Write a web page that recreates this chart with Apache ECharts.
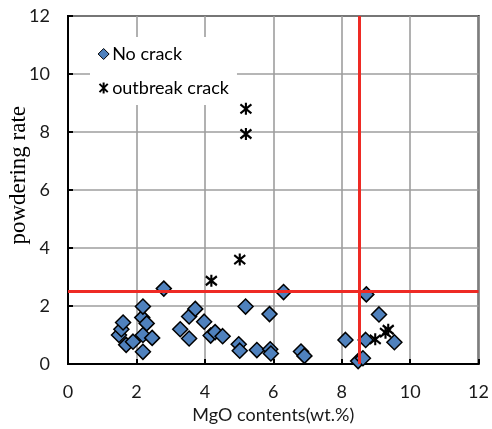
<!DOCTYPE html>
<html><head><meta charset="utf-8">
<script src="https://cdn.jsdelivr.net/npm/echarts@6/dist/echarts.min.js"></script>
<style>html,body{margin:0;padding:0;background:#fff}#c{width:492px;height:429px}</style>
</head><body><div id="c"></div>
<script>
var noCrackX = [1.49,1.56,1.61,1.70,1.90,2.17,2.19,2.30,2.19,2.46,2.19,2.80,
  3.28,3.54,3.54,3.72,3.98,4.17,4.30,4.52,4.99,5.02,5.19,5.52,5.89,5.91,5.93,6.30,6.81,6.91,
  8.11,8.48,8.62,8.70,8.72,9.09,9.54];
var noCrackY = [1.00,1.20,1.43,0.66,0.77,1.60,1.98,1.40,1.00,0.90,0.42,2.60,
  1.20,0.88,1.64,1.90,1.46,0.98,1.10,0.96,0.68,0.46,1.98,0.48,1.72,0.51,0.36,2.48,0.43,0.28,
  0.83,0.10,0.20,0.83,2.40,1.71,0.75];
var crackX = [4.19,5.02,5.20,5.20,8.98,9.28,9.36];
var crackY = [2.87,3.60,7.93,8.80,0.85,1.08,1.18];
var thresholdX = 8.5;
var thresholdY = 2.5;
var xTicks = [0,2,4,6,8,10,12];
var yTicks = [0,2,4,6,8,10,12];
var seriesNames = ['No crack','outbreak crack'];
var xTitle = 'MgO contents(wt.%)';
var yTitle = 'powdering rate';

function pairs(xs, ys){ return xs.map(function(x,i){return [x, ys[i]];}); }
var star = 'path://M0,-10 L0,10 M-7.5,-7.5 L7.5,7.5 M-7.5,7.5 L7.5,-7.5';
var lblFont = 'Lato';
var chart = echarts.init(document.getElementById('c'), null, {renderer:'canvas'});
chart.setOption({
  animation:false,
  backgroundColor:'#fff',
  grid:{left:68, right:11, top:16, bottom:65, show:true, borderColor:'#000', borderWidth:2, backgroundColor:'transparent'},
  xAxis:{type:'value', min:xTicks[0], max:xTicks[xTicks.length-1], interval:2,
    axisLine:{show:true, lineStyle:{color:'#000', width:2}},
    axisTick:{show:true, inside:true, length:5, lineStyle:{color:'#000', width:2}},
    splitLine:{show:true, lineStyle:{color:'#9e9e9e', width:1.6}},
    axisLabel:{margin:19, color:'#1a1a1a', fontFamily:lblFont, fontSize:18},
    name:xTitle, nameLocation:'middle', nameGap:40,
    nameTextStyle:{color:'#1a1a1a', fontFamily:lblFont, fontSize:18}},
  yAxis:{type:'value', min:yTicks[0], max:yTicks[yTicks.length-1], interval:2,
    axisLine:{show:true, lineStyle:{color:'#000', width:2}},
    axisTick:{show:true, inside:true, length:5, lineStyle:{color:'#000', width:2}},
    splitLine:{show:true, lineStyle:{color:'#9e9e9e', width:1.6}},
    axisLabel:{margin:18, color:'#1a1a1a', fontFamily:lblFont, fontSize:18}},
  legend:{show:true, orient:'vertical', left:90, top:37, padding:[8,8,8,7],
    backgroundColor:'#fff', itemWidth:11, itemHeight:11, itemGap:16,
    textStyle:{fontFamily:lblFont, fontSize:18, color:'#000', padding:[0,0,0,-2]},
    data:[
      {name:seriesNames[0], icon:'diamond', itemStyle:{color:'#4F81BD', borderColor:'#000', borderWidth:1}},
      {name:seriesNames[1], icon:star, itemStyle:{color:'none', borderColor:'#000', borderWidth:2}}
    ]},
  graphic:[{type:'text', left:7, top:106, rotation:Math.PI/2,
    style:{text:yTitle, font:'23px "Liberation Serif"', fill:'#000'}}],
  series:[
    {type:'scatter', name:'ref', data:[], z:1, silent:true,
      markLine:{silent:true, symbol:'none', label:{show:false},
        lineStyle:{color:'#EE2A24', width:3, type:'solid'},
        data:[{xAxis:thresholdX},{yAxis:thresholdY}]}},
    {type:'scatter', name:seriesNames[0], data:pairs(noCrackX,noCrackY), z:3,
      symbol:'diamond', symbolSize:15,
      itemStyle:{color:'#4F81BD', borderColor:'#000', borderWidth:1.5, opacity:1}},
    {type:'scatter', name:seriesNames[1], data:pairs(crackX,crackY), z:4,
      symbol:star, symbolSize:[11,12],
      itemStyle:{color:'none', borderColor:'#000', borderWidth:2.2, opacity:1}}
  ]
});
</script></body></html>
